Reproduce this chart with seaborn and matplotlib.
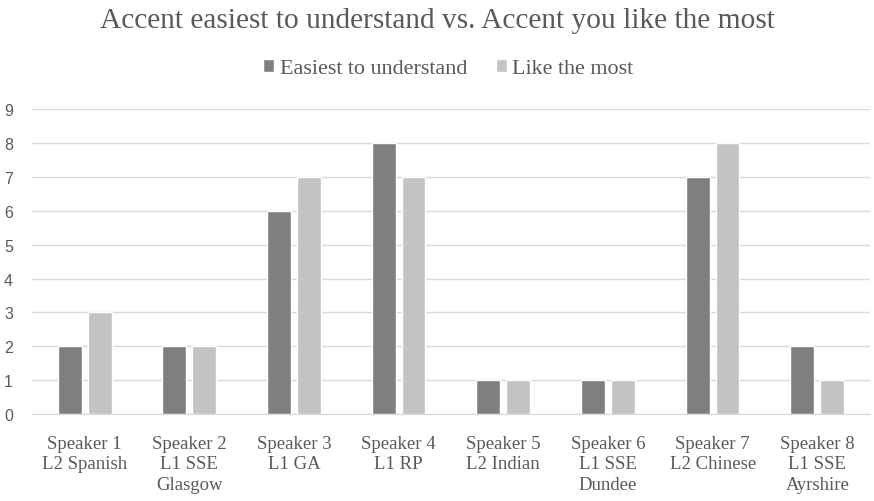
import matplotlib
matplotlib.use("Agg")
import matplotlib.pyplot as plt
import seaborn as sns
import pandas as pd

# data
speakers = ["Speaker 1\nL2 Spanish", "Speaker 2\nL1 SSE\nGlasgow", "Speaker 3\nL1 GA",
            "Speaker 4\nL1 RP", "Speaker 5\nL2 Indian", "Speaker 6\nL1 SSE\nDundee",
            "Speaker 7\nL2 Chinese", "Speaker 8\nL1 SSE\nAyrshire"]
easiest = [2, 2, 6, 8, 1, 1, 7, 2]
like_most = [3, 2, 7, 7, 1, 1, 8, 1]
series_names = ["Easiest to understand", "Like the most"]

df = pd.DataFrame({"speaker": speakers * 2,
                   "count": easiest + like_most,
                   "series": [series_names[0]] * 8 + [series_names[1]] * 8})

sns.set_style("white")
serif = ["Liberation Serif", "DejaVu Serif"]
gray_txt = "#595959"

fig = plt.figure(figsize=(8.74, 5.02), dpi=100)
ax = fig.add_axes([0.037, 0.173, 0.958, 0.608])

sns.barplot(data=df, x="speaker", y="count", hue="series", ax=ax,
            palette=["#7f7f7f", "#c3c3c3"], width=0.57, gap=0.2,
            saturation=1, errorbar=None)

ax.set_ylim(0, 9)
ax.set_yticks(range(0, 10))
ax.yaxis.grid(True, color="#d9d9d9", linewidth=1)
ax.set_axisbelow(True)
for s in ["top", "right", "left"]:
    ax.spines[s].set_visible(False)
ax.spines["bottom"].set_color("#d9d9d9")
ax.set_xlabel("")
ax.set_ylabel("")
ax.tick_params(axis="both", length=0)
ax.tick_params(axis="y", pad=14, labelsize=11.5, labelcolor=gray_txt)
ax.tick_params(axis="x", pad=15)
for lab in ax.get_yticklabels():
    lab.set_fontfamily(["Liberation Sans", "DejaVu Sans"])
for lab in ax.get_xticklabels():
    lab.set_fontfamily(serif)
    lab.set_fontsize(13.5)
    lab.set_color(gray_txt)
    lab.set_linespacing(1.27)

handles, labels = ax.get_legend_handles_labels()
ax.get_legend().remove()
fig.legend(handles, labels, loc="center", bbox_to_anchor=(0.513, 0.861),
           ncol=2, frameon=False, handlelength=0.5, handleheight=0.5,
           handletextpad=0.25, columnspacing=1.3,
           prop={"family": serif, "size": 15.9}, labelcolor=gray_txt)

fig.suptitle("Accent easiest to understand vs. Accent you like the most",
             y=0.958, va="center", fontsize=21.2, color=gray_txt, fontfamily=serif)

fig.savefig("out.png", dpi=100)
